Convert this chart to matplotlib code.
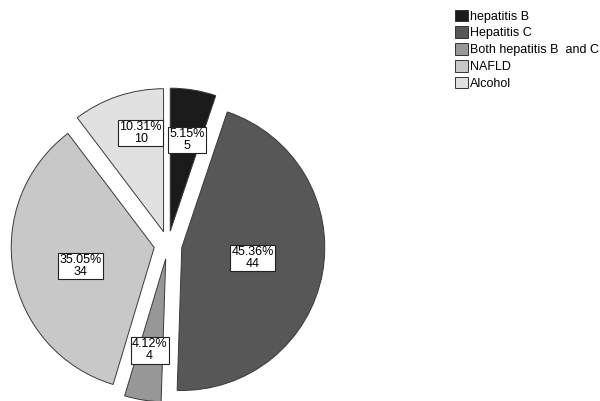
import numpy as np
import matplotlib
matplotlib.use("Agg")
import matplotlib.pyplot as plt
from matplotlib.patches import Patch

plt.rcParams['font.family'] = ['Liberation Sans', 'DejaVu Sans']

categories = ["hepatitis B", "Hepatitis C", "Both hepatitis B  and C", "NAFLD", "Alcohol"]
counts = [5, 44, 4, 34, 10]
percent_labels = ["5.15%", "45.36%", "4.12%", "35.05%", "10.31%"]

colors = ["#1b1b1b", "#575757", "#979797", "#c8c8c8", "#e1e1e1"]
# label placement: fraction along wedge angle (clockwise), fraction of radius
label_ang_frac = [0.57, 0.49, 0.55, 0.47, 0.65]
label_rad_frac = [0.65, 0.50, 0.65, 0.53, 0.71]

W, H = 600, 401
fig = plt.figure(figsize=(W / 100, H / 100), dpi=100)
ax = fig.add_axes([0, 0, 1, 1])
R = 143
cx, cy = 168, H - 245
wedges, _ = ax.pie(counts, colors=colors, startangle=90, counterclock=False,
                   explode=[14] * 5, radius=R, center=(cx, cy),
                   wedgeprops=dict(edgecolor="#3a3a3a", linewidth=0.7))
for w, pl, c, af, rf in zip(wedges, percent_labels, counts, label_ang_frac, label_rad_frac):
    t1, t2 = w.theta1, w.theta2
    ang = np.deg2rad(t2 - af * (t2 - t1))
    x0, y0 = w.center
    x = x0 + rf * R * np.cos(ang)
    y = y0 + rf * R * np.sin(ang)
    ax.text(x, y, f"{pl}\n{c}", ha="center", va="center", fontsize=9,
            linespacing=1.0,
            bbox=dict(boxstyle="square,pad=0.1", fc="white", ec="#222222", lw=0.8))

ax.set_xlim(0, W)
ax.set_ylim(0, H)
ax.set_aspect("equal")
ax.axis("off")

handles = [Patch(facecolor=col, edgecolor="#333333", linewidth=0.7) for col in colors]
fig.legend(handles, categories, loc="upper left", bbox_to_anchor=(452 / W, 1 - 7 / H),
           frameon=False, fontsize=9, handlelength=1.05, handleheight=1.05,
           handletextpad=0.2, labelspacing=0.3, borderpad=0.2, borderaxespad=0)

fig.savefig("out.png", dpi=100)
